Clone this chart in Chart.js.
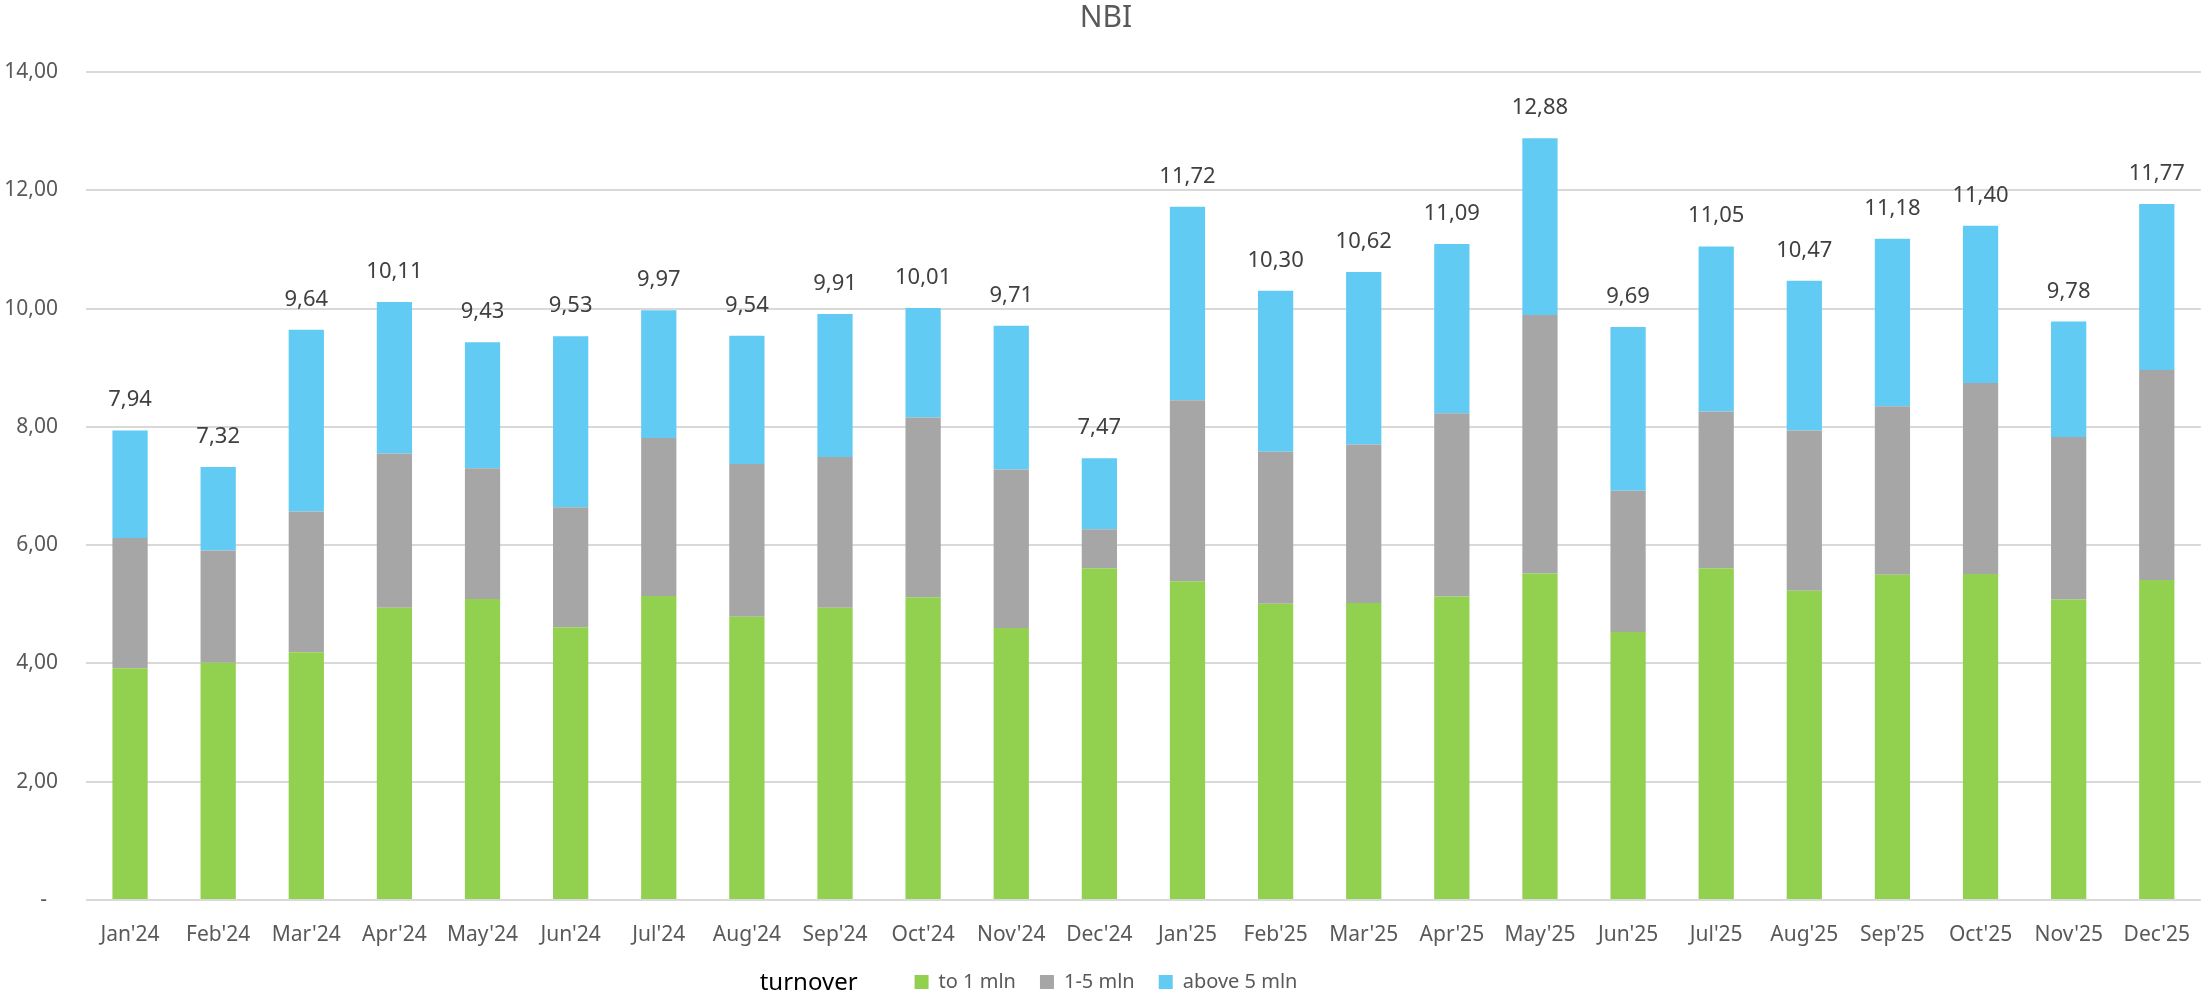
<!DOCTYPE html>
<html>
<head>
<meta charset="utf-8">
<title>NBI</title>
<script src="https://cdn.jsdelivr.net/npm/chart.js@4.4.1/dist/chart.umd.min.js"></script>
<style>
  html, body { margin: 0; padding: 0; background: #fff; overflow: hidden; }
  .chartBox { width: 2212px; height: 1002px; }
</style>
</head>
<body>
<div class="chartBox"><canvas id="nbiChart"></canvas></div>
<script>
// months on the x axis
const months = ["Jan'24", "Feb'24", "Mar'24", "Apr'24", "May'24", "Jun'24", "Jul'24", "Aug'24", "Sep'24", "Oct'24", "Nov'24", "Dec'24",
  "Jan'25", "Feb'25", "Mar'25", "Apr'25", "May'25", "Jun'25", "Jul'25", "Aug'25", "Sep'25", "Oct'25", "Nov'25", "Dec'25"];

// NBI per turnover group
const toOneMln = [3.92, 4.01, 4.19, 4.94, 5.09, 4.61, 5.14, 4.79, 4.94, 5.12, 4.60, 5.61,
  5.39, 5.01, 5.02, 5.13, 5.52, 4.53, 5.61, 5.23, 5.50, 5.51, 5.08, 5.41];
const oneToFiveMln = [2.20, 1.90, 2.38, 2.61, 2.21, 2.03, 2.67, 2.58, 2.55, 3.04, 2.68, 0.66,
  3.06, 2.57, 2.68, 3.10, 4.37, 2.39, 2.65, 2.71, 2.85, 3.23, 2.75, 3.55];
const aboveFiveMln = [1.82, 1.41, 3.07, 2.56, 2.13, 2.89, 2.16, 2.17, 2.42, 1.85, 2.43, 1.20,
  3.27, 2.72, 2.92, 2.86, 2.99, 2.77, 2.79, 2.53, 2.83, 2.66, 1.95, 2.81];

// y axis range
const yMin = 0;
const yMax = 14;
const yStep = 2;

const labelFont = '"Noto Sans", sans-serif';
Chart.defaults.font.family = labelFont;

function formatComma(value) {
  return value.toFixed(2).replace(".", ",");
}

// total above each stacked bar
const totalLabels = {
  id: "totalLabels",
  afterDatasetsDraw(chart) {
    const ctx = chart.ctx;
    const yScale = chart.scales.y;
    const topMeta = chart.getDatasetMeta(chart.data.datasets.length - 1);
    ctx.save();
    ctx.font = "22px " + labelFont;
    ctx.fillStyle = "#404040";
    ctx.textAlign = "center";
    ctx.textBaseline = "alphabetic";
    for (let i = 0; i < months.length; i++) {
      const total = toOneMln[i] + oneToFiveMln[i] + aboveFiveMln[i];
      const x = topMeta.data[i].x;
      const y = yScale.getPixelForValue(total);
      ctx.fillText(formatComma(total), x, y - 24);
    }
    ctx.restore();
  }
};

// "turnover" caption left of the legend
const legendCaption = {
  id: "legendCaption",
  afterDraw(chart) {
    const boxes = chart.legend.legendHitBoxes;
    if (!boxes || !boxes.length) return;
    const first = boxes[0];
    const ctx = chart.ctx;
    ctx.save();
    ctx.font = "24px " + labelFont;
    ctx.fillStyle = "#000000";
    ctx.textAlign = "right";
    ctx.textBaseline = "middle";
    ctx.fillText("turnover", first.left - 57, first.top + first.height / 2 + 1);
    ctx.restore();
  }
};

new Chart(document.getElementById("nbiChart"), {
  type: "bar",
  data: {
    labels: months,
    datasets: [
      { label: "to 1 mln", data: toOneMln, backgroundColor: "#92D050" },
      { label: "1-5 mln", data: oneToFiveMln, backgroundColor: "#A6A6A6" },
      { label: "above 5 mln", data: aboveFiveMln, backgroundColor: "#61CBF3" }
    ]
  },
  options: {
    responsive: true,
    maintainAspectRatio: false,
    devicePixelRatio: 1,
    animation: false,
    datasets: {
      bar: { barPercentage: 0.4, categoryPercentage: 1.0, borderWidth: 0 }
    },
    layout: { padding: 0 },
    plugins: {
      title: {
        display: true,
        text: "NBI",
        color: "#595959",
        font: { size: 30, weight: "normal" },
        padding: { top: 0, bottom: 36 }
      },
      legend: {
        position: "bottom",
        labels: {
          boxWidth: 14,
          boxHeight: 14,
          padding: 24,
          color: "#595959",
          font: { size: 20 }
        }
      },
      tooltip: { enabled: false }
    },
    scales: {
      x: {
        stacked: true,
        grid: { display: false, drawTicks: false },
        border: { display: false },
        ticks: { color: "#595959", font: { size: 21 }, padding: 22, maxRotation: 0, autoSkip: false },
        afterFit(scale) { scale.height = 48; }
      },
      y: {
        stacked: true,
        min: yMin,
        max: yMax,
        grid: { color: "#D9D9D9", lineWidth: 2, drawTicks: false },
        border: { display: false },
        ticks: {
          stepSize: yStep,
          padding: 28,
          color: "#595959",
          font: { size: 21 },
          callback: value => value === 0 ? "-  " : formatComma(value)
        },
        afterFit(scale) { scale.width = 86; }
      }
    }
  },
  plugins: [totalLabels, legendCaption]
});
</script>
</body>
</html>
